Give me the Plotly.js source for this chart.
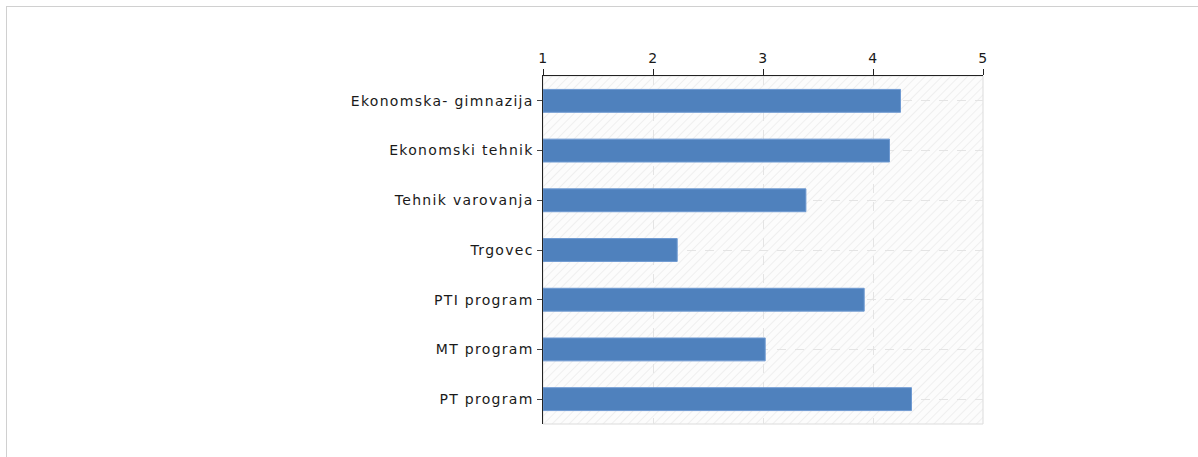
<!DOCTYPE html>
<html>
<head>
<meta charset="utf-8">
<script src="https://cdn.plot.ly/plotly-3.0.1.min.js"></script>
<style>
  html, body { margin: 0; padding: 0; background: #fff; overflow: hidden; }
  #frame { position: absolute; left: 6px; top: 6px; width: 1300px; height: 600px; border: 1px solid #d0d0d0; box-sizing: border-box; }
  #chart { position: absolute; left: 0; top: 0; width: 1198px; height: 457px; }
  #chart .ytick text { letter-spacing: 1.3px; }
  #chart .xtick text { letter-spacing: 0.5px; }
</style>
</head>
<body>
<div id="frame"></div>
<div id="chart"></div>
<script>
const categories = [
  "Ekonomska- gimnazija",
  "Ekonomski tehnik",
  "Tehnik varovanja",
  "Trgovec",
  "PTI program",
  "MT program",
  "PT program"
];
const values = [4.25, 4.15, 3.39, 2.22, 3.92, 3.02, 4.35];
const tickValues = [1, 2, 3, 4, 5];
const tickLabels = ["1", "2", "3", "4", "5"];

const hatchSvg =
  '<svg xmlns="http://www.w3.org/2000/svg" width="440" height="348" viewBox="0 0 440 348">' +
  '<defs><pattern id="p" width="6" height="6" patternUnits="userSpaceOnUse" patternTransform="rotate(45)">' +
  '<rect width="6" height="6" fill="#fcfcfc"/>' +
  '<line x1="0" y1="0" x2="0" y2="6" stroke="#efefef" stroke-width="2"/></pattern></defs>' +
  '<rect width="440" height="348" fill="url(#p)"/></svg>';

const trace = {
  type: "bar",
  orientation: "h",
  y: categories,
  x: values.map(v => v - 1),
  base: 1,
  marker: { color: "#4f81bd", line: { color: "#6f9ad2", width: 1 } },
  hoverinfo: "x+y"
};

const layout = {
  width: 1198,
  height: 457,
  margin: { l: 543, r: 215, t: 76, b: 33, pad: 0 },
  paper_bgcolor: "rgba(0,0,0,0)",
  plot_bgcolor: "rgba(0,0,0,0)",
  font: { family: "DejaVu Sans, Verdana, sans-serif", size: 14, color: "#1a1a1a" },
  bargap: 0.54,
  showlegend: false,
  xaxis: {
    side: "top",
    range: [1, 5],
    tickvals: tickValues,
    ticktext: tickLabels,
    ticks: "outside",
    ticklen: 6,
    tickcolor: "#222",
    showline: true,
    linecolor: "#222",
    linewidth: 1.5,
    showgrid: true,
    gridcolor: "#e4e4e4",
    griddash: "dash",
    zeroline: false,
    fixedrange: true
  },
  yaxis: {
    autorange: "reversed",
    ticks: "outside",
    ticklen: 5,
    tickcolor: "#444",
    showline: true,
    linecolor: "#222",
    linewidth: 1.5,
    showgrid: true,
    gridcolor: "#e4e4e4",
    griddash: "dash",
    zeroline: false,
    fixedrange: true
  },
  images: [{
    source: "data:image/svg+xml;charset=utf-8," + encodeURIComponent(hatchSvg),
    xref: "paper", yref: "paper",
    x: 0, y: 1, sizex: 1, sizey: 1,
    xanchor: "left", yanchor: "top",
    sizing: "stretch",
    layer: "below"
  }],
  shapes: [{
    type: "rect", xref: "paper", yref: "paper",
    x0: 0, x1: 1, y0: 0, y1: 1,
    line: { color: "#dcdcdc", width: 1 },
    layer: "below"
  }]
};

Plotly.newPlot("chart", [trace], layout, { displayModeBar: false, staticPlot: true });
</script>
</body>
</html>
